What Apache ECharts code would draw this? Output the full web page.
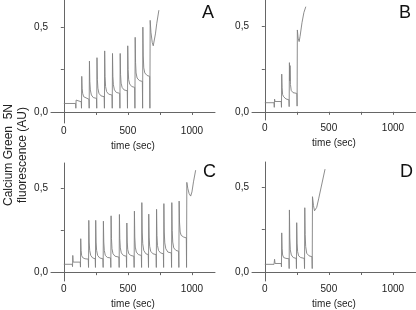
<!DOCTYPE html>
<html><head><meta charset="utf-8">
<script src="https://cdn.jsdelivr.net/npm/echarts@6/dist/echarts.min.js"></script>
<style>html,body{margin:0;padding:0;background:#fff}#c{width:416px;height:310px}</style>
</head><body><div id="c"></div>
<script>
// ---- data (time in sec, fluorescence in AU) ----
const timeA = [0,92,94,96,100,136,
 138,140,143,147,155,170,196,
 198,200,203,207,215,230,255,
 257,259,262,266,274,290,315,
 317,319,322,326,334,350,376,
 378,380,383,387,395,410,436,
 438,440,443,447,455,470,495,
 497,499,502,506,514,530,553,
 555,557,560,564,572,590,613,
 615,617,620,624,632,650,670,
 672,674,680,690,698,705,715,725,742];
const signalA = [0.05,0.05,0.022,0.07,0.06,0.06,
 0.022,0.21,0.14,0.11,0.09,0.08,0.075,
 0.022,0.30,0.18,0.13,0.10,0.085,0.08,
 0.022,0.32,0.19,0.14,0.11,0.095,0.09,
 0.022,0.36,0.21,0.15,0.12,0.105,0.10,
 0.022,0.345,0.21,0.16,0.13,0.115,0.11,
 0.022,0.345,0.22,0.17,0.145,0.13,0.125,
 0.022,0.39,0.25,0.19,0.165,0.15,0.145,
 0.022,0.44,0.29,0.23,0.20,0.185,0.18,
 0.022,0.50,0.33,0.26,0.23,0.215,0.21,
 0.022,0.54,0.47,0.41,0.39,0.40,0.46,0.52,0.60];

const timeB = [0,72,74,76,80,128,
 130,132,135,139,147,165,188,
 190,192,195,197,200,206,220,250,
 252,254,260,268,275,290,305,320];
const signalB = [0.053,0.053,0.026,0.074,0.06,0.06,
 0.026,0.22,0.14,0.10,0.088,0.075,0.07,
 0.03,0.287,0.18,0.27,0.16,0.125,0.112,0.107,
 0.033,0.478,0.43,0.41,0.44,0.52,0.58,0.614];

const timeC = [0,66,68,70,73,128,
 130,132,135,139,147,165,191,
 193,195,198,202,210,225,245,
 247,249,252,256,264,280,305,
 307,309,312,316,324,340,365,
 367,369,372,376,384,400,430,
 432,434,437,441,449,465,488,
 490,492,495,499,507,523,547,
 549,551,554,558,566,582,605,
 607,609,612,616,624,640,659,
 661,663,666,670,678,695,720,
 722,724,727,731,739,755,777,
 779,781,784,788,796,812,839,
 841,843,846,850,858,875,896,
 898,900,903,908,916,935,956,
 958,960,968,978,990,1000,1012,1029];
const signalC = [0.047,0.047,0.033,0.10,0.06,0.06,
 0.03,0.20,0.13,0.10,0.087,0.08,0.078,
 0.028,0.31,0.18,0.13,0.10,0.085,0.08,
 0.028,0.31,0.18,0.13,0.10,0.085,0.08,
 0.028,0.305,0.18,0.13,0.10,0.088,0.085,
 0.028,0.337,0.20,0.14,0.11,0.095,0.09,
 0.028,0.345,0.20,0.145,0.115,0.10,0.095,
 0.028,0.294,0.18,0.135,0.11,0.10,0.095,
 0.028,0.365,0.21,0.15,0.12,0.105,0.10,
 0.028,0.416,0.24,0.17,0.13,0.11,0.105,
 0.028,0.347,0.21,0.155,0.125,0.11,0.105,
 0.028,0.376,0.22,0.16,0.13,0.115,0.11,
 0.028,0.41,0.24,0.175,0.14,0.12,0.115,
 0.028,0.416,0.25,0.18,0.145,0.13,0.125,
 0.028,0.425,0.30,0.24,0.22,0.21,0.205,
 0.028,0.537,0.50,0.47,0.455,0.48,0.54,0.61];

const timeD = [0,72,74,76,80,128,
 130,132,135,139,147,165,188,
 190,192,195,199,207,222,245,
 247,249,252,256,264,280,308,
 310,312,315,319,327,345,368,
 370,372,380,388,395,405,420,440,470];
const signalD = [0.045,0.045,0.035,0.075,0.05,0.05,
 0.03,0.23,0.14,0.10,0.085,0.08,0.078,
 0.02,0.365,0.20,0.13,0.10,0.085,0.08,
 0.02,0.29,0.17,0.12,0.095,0.085,0.08,
 0.02,0.378,0.22,0.15,0.11,0.095,0.09,
 0.02,0.443,0.39,0.36,0.355,0.38,0.43,0.50,0.605];

const xTickValues = [0,250,500,750,1000];
const xLabelValues = [0,500,1000];
const yTickValues = [0,0.25,0.5];
const yLabelValues = [0,0.5];
const panelLetters = ['A','B','C','D'];
const xTitle = 'time (sec)';
const yTitle1 = 'Calcium Green  5N';
const yTitle2 = 'fluorescence (AU)';

// ---- layout ----
const FONT = 'Liberation Sans, Arial, sans-serif';
const panels = [
  {t: timeA, s: signalA, grid:{left:51, top:0, width:164, height:123}, ymin:-0.065, ymax:0.66},
  {t: timeB, s: signalB, grid:{left:252, top:0, width:164, height:120}, ymin:-0.048, ymax:0.653},
  {t: timeC, s: signalC, grid:{left:51, top:163, width:164, height:120}, ymin:-0.053, ymax:0.653},
  {t: timeD, s: signalD, grid:{left:252, top:162, width:164, height:119}, ymin:-0.053, ymax:0.647}
];
const axisLineStyle = {color:'#666', width:1};
const grids=[], xAxes=[], yAxes=[], series=[];
panels.forEach((p,i)=>{
  grids.push(p.grid);
  xAxes.push({type:'value', gridIndex:i, min:-100, max:1180,
    name:xTitle, nameLocation:'middle', nameGap:18,
    nameTextStyle:{fontSize:10, color:'#222', fontFamily:FONT},
    axisLine:{show:true, lineStyle:axisLineStyle},
    axisTick:{show:true, length:3, customValues:xTickValues, lineStyle:axisLineStyle},
    axisLabel:{customValues:xLabelValues, fontSize:10, color:'#222', margin:3, fontFamily:FONT,
      formatter:v=>String(Math.round(v))},
    splitLine:{show:false}});
  yAxes.push({type:'value', gridIndex:i, min:p.ymin, max:p.ymax,
    axisLine:{show:true, lineStyle:axisLineStyle},
    axisTick:{show:true, length:3, customValues:yTickValues, lineStyle:axisLineStyle},
    axisLabel:{customValues:yLabelValues, fontSize:10, color:'#222', margin:3, fontFamily:FONT,
      formatter:v=>v.toFixed(1).replace('.',',')},
    splitLine:{show:false}});
  series.push({type:'line', xAxisIndex:i, yAxisIndex:i, showSymbol:false, smooth:false,
    data:p.t.map((t,k)=>[t,p.s[k]]),
    lineStyle:{color:'#808080', width:0.9}});
});
const letterPos = [[202,4],[399,4],[203,163],[400,163]];
const graphic = panelLetters.map((L,i)=>({type:'text', left:letterPos[i][0], top:letterPos[i][1],
  style:{text:L, fontSize:18, fill:'#111', fontFamily:FONT}}));
graphic.push({type:'text', x:9, y:155, rotation:Math.PI/2,
  style:{text:yTitle1, fontSize:12, fill:'#222', fontFamily:FONT, align:'center', verticalAlign:'middle'}});
graphic.push({type:'text', x:23, y:155, rotation:Math.PI/2,
  style:{text:yTitle2, fontSize:12, fill:'#222', fontFamily:FONT, align:'center', verticalAlign:'middle'}});

const chart = echarts.init(document.getElementById('c'), null, {renderer:'canvas'});
chart.setOption({animation:false, backgroundColor:'#fff', grid:grids, xAxis:xAxes, yAxis:yAxes, series, graphic});
</script></body></html>
